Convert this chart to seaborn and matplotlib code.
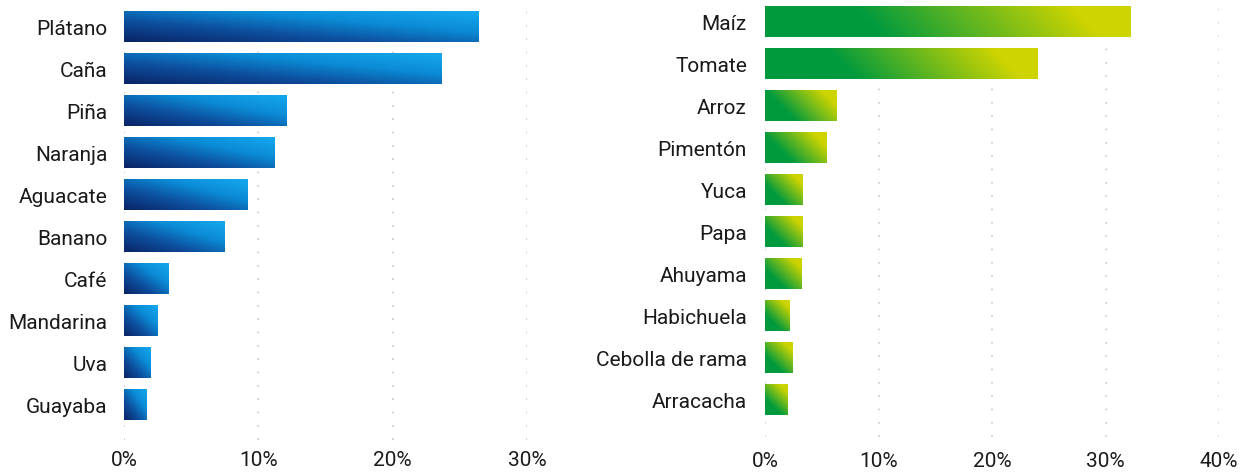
import numpy as np
import pandas as pd
import matplotlib
matplotlib.use("Agg")
import matplotlib.pyplot as plt
from matplotlib.colors import LinearSegmentedColormap
from matplotlib.ticker import FixedLocator, FuncFormatter
import seaborn as sns

# Left panel: frutales
frutales = ["Plátano", "Caña", "Piña", "Naranja", "Aguacate",
            "Banano", "Café", "Mandarina", "Uva", "Guayaba"]
frutales_pct = [26.4, 23.6, 12.1, 11.2, 9.2, 7.5, 3.3, 2.5, 2.0, 1.7]
frutales_ticks = [0, 10, 20, 30]

# Right panel: transitorios
transitorios = ["Maíz", "Tomate", "Arroz", "Pimentón", "Yuca", "Papa",
                "Ahuyama", "Habichuela", "Cebolla de rama", "Arracacha"]
transitorios_pct = [32.2, 24.0, 6.3, 5.4, 3.3, 3.3, 3.2, 2.2, 2.4, 2.0]
transitorios_ticks = [0, 10, 20, 30, 40]

sns.set_style("white")
plt.rcParams['font.family'] = ['Roboto', 'DejaVu Sans']

blue_cmap = LinearSegmentedColormap.from_list(
    "blue", ["#0a2466", "#0d4d9c", "#0b8cd6", "#15a8ef"])
green_cmap = LinearSegmentedColormap.from_list(
    "green", [(0, "#009a3e"), (0.3, "#009a3e"), (0.85, "#cdd400"), (1, "#cdd400")])


def paint_gradients(ax, cmap, pixel_weighted):
    # replace the flat bar fill with a gradient image of the same extent
    for p in ax.patches:
        x0, y0, w, h = p.get_x(), p.get_y(), p.get_width(), p.get_height()
        bb = p.get_window_extent()
        u = np.linspace(0, 1, 200)[None, :]
        r = np.linspace(0, 1, 40)[:, None]
        if pixel_weighted:
            t = (u * bb.width + (1 - r) * bb.height) / (bb.width + bb.height)
        else:
            t = 0.5 * u + 0.5 * (1 - r)
        ax.imshow(cmap(t), extent=(x0, x0 + w, y0 + h, y0), origin="upper",
                  aspect="auto", interpolation="bilinear", zorder=3)
        p.set_visible(False)


def draw_panel(ax, cats, vals, ticks, cmap, pixel_weighted, extra, pad_y, pad_x):
    df = pd.DataFrame({"cultivo": cats, "pct": vals})
    sns.barplot(data=df, x="pct", y="cultivo", ax=ax, width=0.72,
                color="#1a6fc0", orient="h")
    ax.set_xlim(0, ticks[-1])
    ax.set_ylim(len(cats) - 0.5 + extra, -0.5)
    ax.xaxis.set_major_locator(FixedLocator(ticks))
    ax.xaxis.set_major_formatter(FuncFormatter(lambda v, _: f"{v:.0f}%"))
    ax.grid(axis="x", color="#c8c8c8", linestyle=(0, (1, 7)), linewidth=1.2, zorder=0)
    ax.grid(axis="y", visible=False)
    ax.set_axisbelow(True)
    ax.set_xlabel("")
    ax.set_ylabel("")
    for s in ax.spines.values():
        s.set_visible(False)
    ax.tick_params(axis="x", length=0, pad=pad_x, labelsize=15, labelcolor="#1a1a1a")
    ax.tick_params(axis="y", length=0, pad=pad_y, labelsize=15, labelcolor="#1a1a1a")
    paint_gradients(ax, cmap, pixel_weighted)
    ax.set_xlim(0, ticks[-1])
    ax.set_ylim(len(cats) - 0.5 + extra, -0.5)


fig = plt.figure(figsize=(12.55, 4.73), dpi=100)
ax1 = fig.add_axes([124 / 1255, 1 - 440 / 473, 403 / 1255, 434 / 473])
ax2 = fig.add_axes([765 / 1255, 1 - 437 / 473, 454 / 1255, 436 / 473])

draw_panel(ax1, frutales, frutales_pct, frutales_ticks, blue_cmap, False, 0.33, 12, 8)
draw_panel(ax2, transitorios, transitorios_pct, transitorios_ticks, green_cmap, True, 0.38, 13, 11)

fig.savefig("out.png", dpi=100)
plt.close(fig)
